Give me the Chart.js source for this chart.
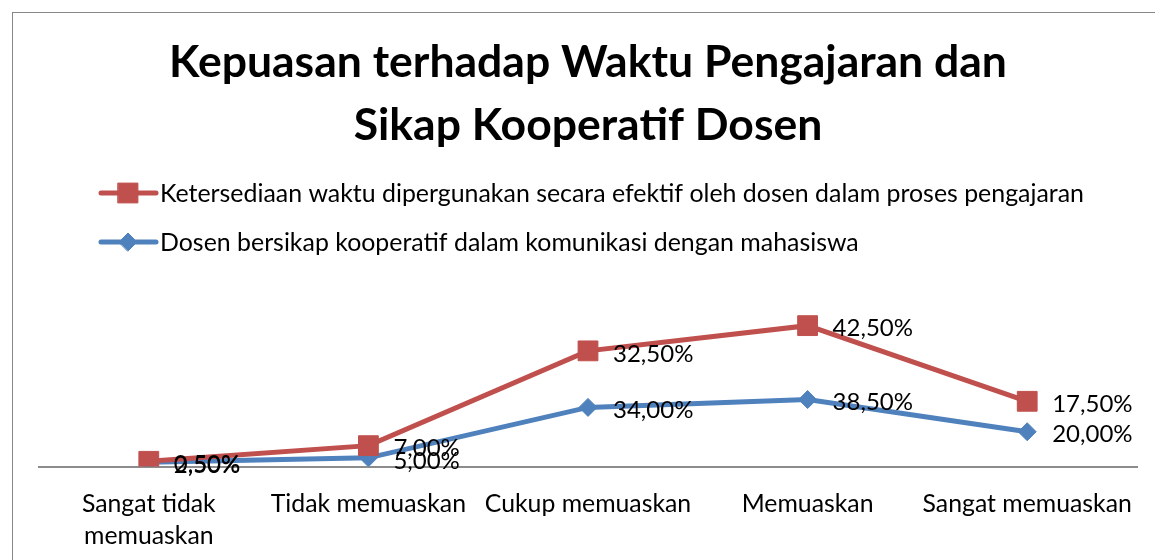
<!DOCTYPE html>
<html>
<head>
<meta charset="utf-8">
<script src="https://cdn.jsdelivr.net/npm/chart.js@4/dist/chart.umd.min.js"></script>
<style>
  body { margin: 0; background: #fff; overflow: hidden; }
  #wrap { position: relative; width: 1155px; height: 560px; }
  #frame { position: absolute; left: 12px; top: 12px; width: 1200px; height: 600px; border: 1.5px solid #878787; box-sizing: border-box; }
  canvas { position: absolute; left: 0; top: 0; }
</style>
</head>
<body>
<div id="wrap">
  <div id="frame"></div>
  <canvas id="chart" width="1155" height="560"></canvas>
</div>
<script>
const titleLines = ["Kepuasan terhadap Waktu Pengajaran dan", "Sikap Kooperatif Dosen"];
const categories = [["Sangat tidak", "memuaskan"], "Tidak memuaskan", "Cukup memuaskan", "Memuaskan", "Sangat memuaskan"];
const waktuLabel = "Ketersediaan waktu dipergunakan secara efektif oleh dosen dalam proses pengajaran";
const kooperatifLabel = "Dosen bersikap kooperatif dalam komunikasi dengan mahasiswa";
const waktu = [0.5, 7.0, 32.5, 42.5, 17.5];
const kooperatif = [2.5, 5.0, 34.0, 38.5, 20.0];

const RED = "#C0504D";
const BLUE = "#4F81BD";
const FONT = "Lato";

// stacked line chart: the red series sits on top of the blue one
const waktuStacked = waktu.map((v, i) => v + kooperatif[i]);

function pct(v) {
  return v.toFixed(2).replace(".", ",") + "%";
}

const labelPlugin = {
  id: "valueLabels",
  afterDatasetsDraw(chart) {
    const ctx = chart.ctx;
    ctx.save();
    ctx.font = "24px " + FONT;
    ctx.fillStyle = "#000";
    ctx.textAlign = "left";
    ctx.textBaseline = "middle";
    chart.data.datasets.forEach((ds, i) => {
      const meta = chart.getDatasetMeta(i);
      meta.data.forEach((pt, j) => {
        ctx.fillText(pct(ds.raw[j]), pt.x + 25, pt.y + 3);
      });
    });
    ctx.restore();
  }
};

const legendPlugin = {
  id: "sideLegend",
  afterDraw(chart) {
    const ctx = chart.ctx;
    ctx.save();
    chart.data.datasets.forEach((ds, i) => {
      const y = 193 + i * 49;
      ctx.strokeStyle = ds.borderColor;
      ctx.lineWidth = 5;
      ctx.lineCap = "round";
      ctx.beginPath();
      ctx.moveTo(101, y);
      ctx.lineTo(156, y);
      ctx.stroke();
      ctx.fillStyle = ds.backgroundColor;
      ctx.strokeStyle = ds.borderColor;
      ctx.lineWidth = 1;
      Chart.helpers.drawPoint(ctx, { pointStyle: ds.pointStyle, radius: ds.pointRadius, borderWidth: 1 }, 128, y);
      ctx.font = "24.9px " + FONT;
      ctx.fillStyle = "#000";
      ctx.textAlign = "left";
      ctx.textBaseline = "middle";
      ctx.fillText(ds.label, 160, y + 1);
    });
    ctx.restore();
  }
};

function initChart() {
  const ctx = document.getElementById("chart");
  new Chart(ctx, {
    type: "line",
    data: {
      labels: categories,
      datasets: [
        {
          label: waktuLabel, data: waktuStacked, raw: waktu,
          borderColor: RED, backgroundColor: RED, borderWidth: 5,
          pointStyle: "rect", pointRadius: 14, pointBorderWidth: 1, tension: 0
        },
        {
          label: kooperatifLabel, data: kooperatif, raw: kooperatif,
          borderColor: BLUE, backgroundColor: BLUE, borderWidth: 5,
          pointStyle: "rectRot", pointRadius: 9, pointBorderWidth: 1, tension: 0
        }
      ]
    },
    options: {
      responsive: false,
      devicePixelRatio: 1,
      animation: false,
      layout: { padding: { left: 39, right: 18, top: 0, bottom: -13 } },
      plugins: {
        legend: { display: false },
        tooltip: { enabled: false },
        title: {
          display: true,
          text: titleLines,
          color: "#000",
          font: { family: FONT, size: 44.5, weight: "bold", lineHeight: 1.4 },
          padding: { top: 32, bottom: 136 }
        }
      },
      scales: {
        x: {
          offset: true,
          grid: { display: false, drawTicks: false },
          border: { display: true, color: "#8c8c8c", width: 2 },
          ticks: { color: "#000", font: { family: FONT, size: 24.8, lineHeight: 1.3 }, padding: 21, maxRotation: 0, autoSkip: false }
        },
        y: { display: false, min: 0, max: 100 }
      }
    },
    plugins: [labelPlugin, legendPlugin]
  });
}

window.onload = initChart;
</script>
</body>
</html>
